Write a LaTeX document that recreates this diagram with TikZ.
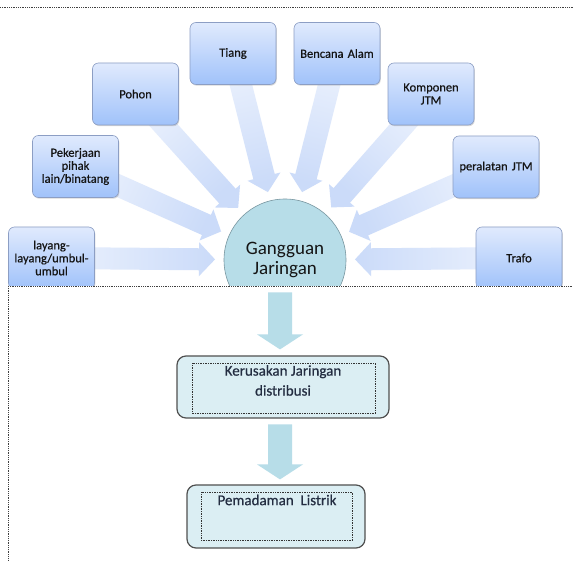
\documentclass[tikz,border=0pt]{standalone}
\usepackage{fontspec}
\setmainfont{Carlito}
\newfontfamily\boxfont[FakeBold=0.6]{Carlito}
\usetikzlibrary{calc,shadows}
\pgfdeclarelayer{background}
\pgfsetlayers{background,main}
\definecolor{boxtop}{RGB}{224,234,253}
\definecolor{boxbot}{RGB}{160,194,250}
\definecolor{boxline}{RGB}{140,158,196}
\definecolor{arrtail}{RGB}{236,242,253}
\definecolor{arrtip}{RGB}{203,219,249}
\definecolor{circfill}{RGB}{183,221,232}
\definecolor{circline}{RGB}{120,150,160}
\definecolor{lowfill}{RGB}{219,238,243}
\definecolor{lowline}{RGB}{80,80,80}
\definecolor{txt}{RGB}{20,20,20}
\definecolor{lowtxt}{RGB}{35,45,65}
\newcommand\causearrow[2]{%
  \coordinate (#1-t) at ($(g.center)!70pt!(#1.center)$);
  \coordinate (#1-h) at ($(#1-t)!16pt!(#1.center)$);
  \begin{pgfonlayer}{background}
  \shade[blockarrow, shading angle=#2]
    ($(#1.center)!11pt!90:(#1-t)$) -- ($(#1-h)!11pt!-90:(#1.center)$)
    -- ($(#1-h)!17pt!-90:(#1.center)$) -- (#1-t)
    -- ($(#1-h)!17pt!90:(#1.center)$) -- ($(#1-h)!11pt!90:(#1.center)$)
    -- ($(#1.center)!11pt!-90:(#1-t)$) -- cycle;
  \end{pgfonlayer}}
\begin{document}
\begin{tikzpicture}[x=1pt,y=1pt,
  cause/.style={rounded corners=6pt, draw=boxline, line width=0.6pt,
    top color=boxtop, bottom color=boxbot, minimum width=86pt, minimum height=62pt,
    text width=82pt, align=center, font=\boxfont\fontsize{12.5}{13}\selectfont, text=txt,
    inner sep=1pt, drop shadow={opacity=0.3, shadow xshift=0.8pt, shadow yshift=-1.2pt}},
  blockarrow/.style={bottom color=arrtail, top color=arrtip},
  downarrow/.style={fill=circfill},
  result/.style={rounded corners=9pt, draw=lowline, line width=1.2pt, fill=lowfill},
  inner/.style={densely dotted, line width=0.7pt, black!80},
  lowtext/.style={font=\boxfont\fontsize{15}{20}\selectfont, text=lowtxt, align=center},
  sep/.style={densely dotted, line width=0.8pt, black!75}
]
\begin{pgfonlayer}{background}
\fill[white] (0,0) rectangle (573,562);
\end{pgfonlayer}
\useasboundingbox (0,0) rectangle (573,562);

\begin{scope}
\clip (0,276) rectangle (573,562);
\node[circle, minimum size=122pt, fill=circfill, draw=circline, line width=0.6pt,
  align=center, font=\fontsize{19}{20}\selectfont, text=txt] (g) at (285,302) {Gangguan\\Jaringan};
\node[cause] (lay) at (51.5,304) {layang-\\layang/umbul-\\umbul};
\node[cause] (pek) at (75.5,395.5) {Pekerjaan\\pihak\\lain/binatang};
\node[cause] (poh) at (135.5,468) {Pohon};
\node[cause] (tia) at (233,508.5) {Tiang};
\node[cause] (ben) at (337,508.5) {Bencana Alam};
\node[cause] (kom) at (431,468) {Komponen\\JTM};
\node[cause] (per) at (496,395) {peralatan JTM};
\node[cause] (tra) at (519,304) {Trafo};
\causearrow{lay}{-90.5}
\causearrow{pek}{-114.3}
\causearrow{poh}{-138.2}
\causearrow{tia}{-165.9}
\causearrow{ben}{-194.1}
\causearrow{kom}{-221.2}
\causearrow{per}{114}
\causearrow{tra}{90.5}
\end{scope}

% lower part
\node[result, minimum width=212pt, minimum height=62pt] (k) at (283,175) {};
\node[lowtext] (kt) at (283,181.5) {Kerusakan Jaringan\\distribusi};
\draw[inner] ($(k.north west)+(16,-8)$) rectangle ($(k.south east)+(-14,5)$);

\node[result, minimum width=178pt, minimum height=63pt] (p) at (276,45.5) {};
\node[lowtext] (pt) at (277,62) {Pemadaman~ Listrik};
\draw[inner] ($(p.north west)+(15,-8)$) rectangle ($(p.south east)+(-13,8)$);

\coordinate (a1) at ($(k.north)+(-3,6)$);
\fill[downarrow] ($(a1)+(-12,57)$) -- ($(a1)+(12,57)$) -- ($(a1)+(12,15)$)
  -- ($(a1)+(23,15)$) -- (a1) -- ($(a1)+(-23,15)$) -- ($(a1)+(-12,15)$) -- cycle;
\coordinate (a2) at ($(p.north)+(4,5)$);
\fill[downarrow] ($(a2)+(-12,55)$) -- ($(a2)+(12,55)$) -- ($(a2)+(12,15)$)
  -- ($(a2)+(23,15)$) -- (a2) -- ($(a2)+(-23,15)$) -- ($(a2)+(-12,15)$) -- cycle;

% separators
\coordinate (sTL) at (0,555);
\coordinate (sTR) at (573,555);
\coordinate (sML) at (8,276);
\coordinate (sMR) at (573,276);
\coordinate (sBL) at (8,2);
\draw[sep] (sTL) -- (sTR);
\draw[sep] (sML) -- (sMR);
\draw[sep] (sML) -- (sBL);
\end{tikzpicture}
\end{document}
